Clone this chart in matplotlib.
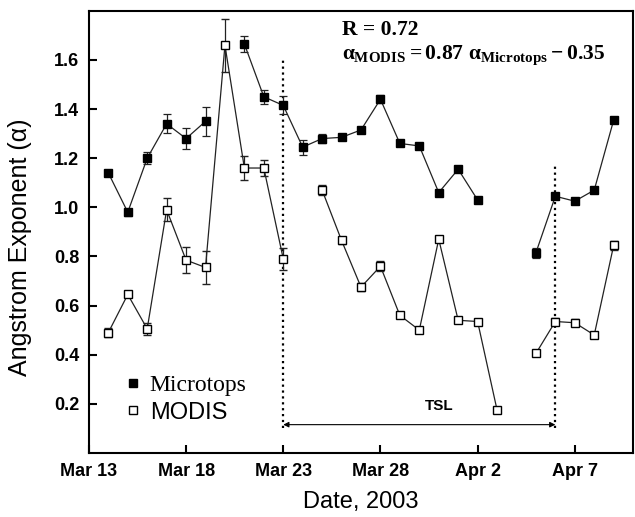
import matplotlib
matplotlib.use('Agg')
import matplotlib.pyplot as plt
import numpy as np
from matplotlib.lines import Line2D

plt.rcParams['font.family'] = ['Liberation Sans', 'DejaVu Sans']
plt.rcParams['mathtext.fontset'] = 'custom'
plt.rcParams['mathtext.rm'] = 'Liberation Serif:bold'
plt.rcParams['mathtext.it'] = 'Liberation Serif:bold'
plt.rcParams['mathtext.bf'] = 'Liberation Serif:bold'

# Mar 14 .. Apr 9, 2003 (one value per day, nan = no retrieval)
fechas = np.arange('2003-03-14', '2003-04-10', dtype='datetime64[D]')

microtops = [1.14, 0.98, 1.20, 1.34, 1.28, 1.35, np.nan, 1.665, 1.45, 1.415,
             1.245, 1.28, 1.285, 1.315, 1.44, 1.26, 1.25, 1.06, 1.155, 1.03,
             np.nan, np.nan, 0.815, 1.045, 1.025, 1.07, 1.355]
microtops_err = [0.012, 0.015, 0.024, 0.038, 0.044, 0.06, 0, 0.033, 0.028, 0.037,
                 0.03, 0.02, 0.012, 0.01, 0.016, 0.008, 0.008, 0.008, 0.008, 0.008,
                 0, 0, 0.02, 0.01, 0.01, 0.01, 0.012]

modis = [0.49, 0.645, 0.505, 0.99, 0.785, 0.755, 1.66, 1.16, 1.16, 0.79,
         np.nan, 1.07, 0.865, 0.675, 0.76, 0.56, 0.50, 0.87, 0.54, 0.535,
         0.175, np.nan, 0.405, 0.535, 0.53, 0.48, 0.845]
modis_err = [0.02, 0.012, 0.025, 0.047, 0.053, 0.068, 0.108, 0.047, 0.034, 0.045,
             0, 0.02, 0.015, 0.015, 0.02, 0.006, 0.006, 0.01, 0.008, 0.008,
             0.01, 0, 0.008, 0.015, 0.015, 0.008, 0.018]

ticks = np.array(['2003-03-13', '2003-03-18', '2003-03-23', '2003-03-28',
                  '2003-04-02', '2003-04-07'], dtype='datetime64[D]')
tick_labels = ['Mar 13', 'Mar 18', 'Mar 23', 'Mar 28', 'Apr 2', 'Apr 7']

inicio_tsl = np.datetime64('2003-03-23')
fin_tsl = np.datetime64('2003-04-06')

fig = plt.figure(figsize=(6.35, 5.17), dpi=100)
ax = fig.add_axes([0.140, 0.124, 0.857, 0.855])

ax.errorbar(fechas, microtops, yerr=microtops_err, color='#222222', lw=0.9,
            marker='s', ms=6, mfc='black', mec='black', ecolor='#222222',
            elinewidth=0.9, capsize=3, capthick=0.9, zorder=3)
ax.errorbar(fechas, modis, yerr=modis_err, color='#222222', lw=0.9,
            marker='s', ms=6, mfc='white', mec='black', mew=1.0, ecolor='#222222',
            elinewidth=0.9, capsize=3, capthick=0.9, zorder=3)

# periodo TSL
ax.plot([inicio_tsl, inicio_tsl], [0.10, 1.6], color='black', ls=':', lw=1.6)
ax.plot([fin_tsl, fin_tsl], [0.10, 1.18], color='black', ls=':', lw=1.6)
ax.annotate('', xy=(inicio_tsl, 0.115), xytext=(fin_tsl, 0.115),
            arrowprops=dict(arrowstyle='<|-|>', color='black', lw=0.8,
                            mutation_scale=8, shrinkA=0, shrinkB=0))
ax.text(np.datetime64('2003-03-31'), 0.19, 'TSL', ha='center', va='center',
        fontsize=11, fontweight='bold')

ax.text(0.465, 0.945, 'R = 0.72', transform=ax.transAxes, fontsize=15.5,
        fontweight='bold', family='Liberation Serif', va='baseline')
ax.text(0.465, 0.89,
        r'$\alpha_{\mathrm{MODIS}}=0.87\ \alpha_{\mathrm{Microtops}}-0.35$',
        transform=ax.transAxes, fontsize=15.5, va='baseline')

handles = [Line2D([], [], ls='none', marker='s', ms=5.5, mfc='black', mec='black'),
           Line2D([], [], ls='none', marker='s', ms=5.5, mfc='white', mec='black')]
leg = ax.legend(handles, ['Microtops', 'MODIS'], loc='lower left',
                bbox_to_anchor=(0.027, 0.018), frameon=False, fontsize=17,
                handlelength=0.7, handletextpad=0.35, labelspacing=0.25)
leg.get_texts()[0].set_family('Liberation Serif')

ax.set_xlim(np.datetime64('2003-03-13'), np.datetime64('2003-04-10'))
ax.set_ylim(0, 1.8)
ax.set_xticks(ticks)
ax.set_xticklabels(tick_labels)
ax.set_yticks([0.2, 0.4, 0.6, 0.8, 1.0, 1.2, 1.4, 1.6])
ax.tick_params(direction='in', length=6, width=1.5, labelsize=13, pad=7)
for lab in ax.get_xticklabels() + ax.get_yticklabels():
    lab.set_fontweight('bold')
for s in ax.spines.values():
    s.set_linewidth(1.5)

ax.set_xlabel('Date, 2003', fontsize=17, labelpad=8)
ax.set_ylabel('Angstrom Exponent (\u03b1)', fontsize=18)
ax.yaxis.set_label_coords(-0.105, 0.466)

fig.savefig('out.png', dpi=100)
